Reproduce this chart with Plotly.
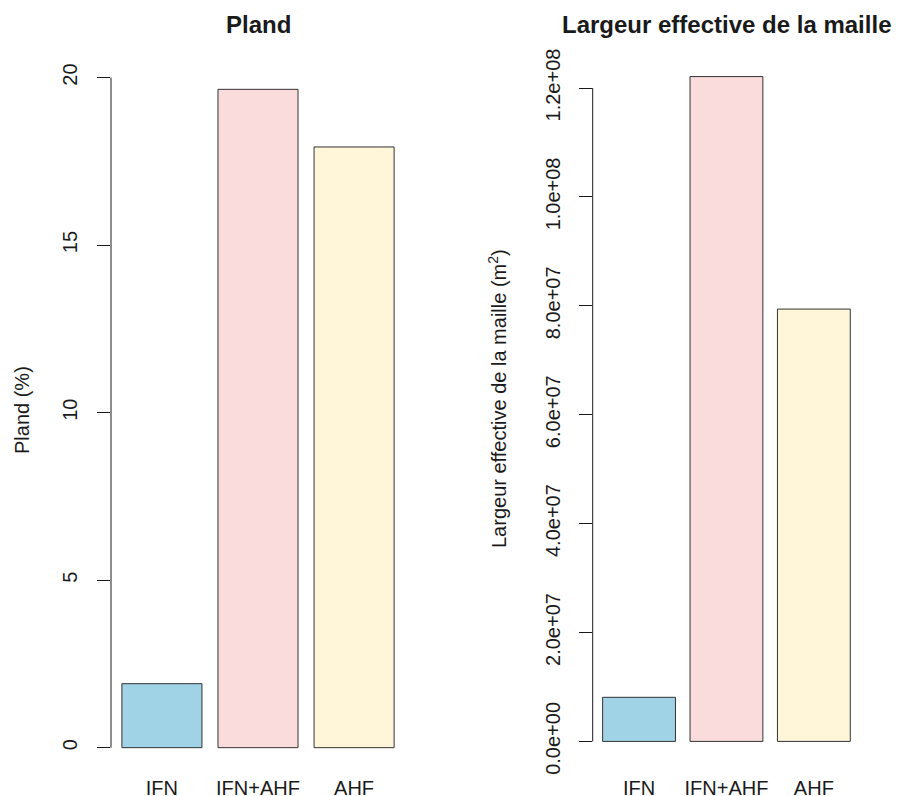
import plotly.graph_objects as go

categories = ["IFN", "IFN+AHF", "AHF"]
pland_values = [1.91, 19.65, 17.93]
lem_values = [8.1e6, 1.221e8, 7.94e7]
bar_colors = ["#A0D3E5", "#F9DCDB", "#FFF5D9"]

pland_ticks = [0, 5, 10, 15, 20]
pland_ticktext = ["0", "5", "10", "15", "20"]
lem_ticks = [0, 2e7, 4e7, 6e7, 8e7, 1e8, 1.2e8]
lem_ticktext = ["0.0e+00", "2.0e+07", "4.0e+07", "6.0e+07", "8.0e+07", "1.0e+08", "1.2e+08"]

W, H = 901, 796
FONT = "Liberation Sans, Arial, Helvetica, sans-serif"
TXT = "#1a1a1a"


def px_x(p):
    return p / W


def px_y(p):
    return 1 - p / H


fig = go.Figure()
fig.add_trace(go.Bar(x=categories, y=pland_values, marker=dict(color=bar_colors, line=dict(color="#333333", width=1)),
                     xaxis="x", yaxis="y", showlegend=False, hoverinfo="x+y"))
fig.add_trace(go.Bar(x=categories, y=lem_values, marker=dict(color=bar_colors, line=dict(color="#333333", width=1)),
                     xaxis="x2", yaxis="y2", showlegend=False, hoverinfo="x+y"))


def ext_range(vmax):
    pad = 0.04 * vmax
    return [-pad, vmax + pad]


common_x = dict(type="category", range=[-0.53, 2.53], showgrid=False, zeroline=False, showline=False,
                automargin=False, ticks="", tickfont=dict(family=FONT, size=20, color=TXT), fixedrange=True)
common_y = dict(showgrid=False, zeroline=False, showline=False, automargin=False, ticks="outside",
                ticklen=13, tickwidth=1, tickcolor=TXT, tickangle=-90,
                tickfont=dict(family=FONT, size=20, color=TXT))

fig.update_layout(
    template="none",
    width=W, height=H,
    margin=dict(l=0, r=0, t=0, b=0, pad=0),
    paper_bgcolor="white", plot_bgcolor="white",
    bargap=1 - 1 / 1.2,
    xaxis=dict(domain=[px_x(111), px_x(405)], anchor="y", ticklabelstandoff=0, **common_x),
    yaxis=dict(domain=[px_y(774), px_y(63)], anchor="x", range=ext_range(max(pland_values)),
               tickvals=pland_ticks, ticktext=pland_ticktext, ticklabelstandoff=12, **common_y),
    xaxis2=dict(domain=[px_x(592.7), px_x(860.2)], anchor="y2", ticklabelstandoff=6, **common_x),
    yaxis2=dict(domain=[px_y(768), px_y(50)], anchor="x2", range=ext_range(max(lem_values)),
                tickvals=lem_ticks, ticktext=lem_ticktext, ticklabelstandoff=11, **common_y),
)

# R-style axis lines spanning first to last tick
fig.add_shape(type="line", xref="x domain", yref="y", x0=0, x1=0, y0=pland_ticks[0], y1=pland_ticks[-1],
              line=dict(color=TXT, width=1))
fig.add_shape(type="line", xref="x2 domain", yref="y2", x0=0, x1=0, y0=lem_ticks[0], y1=lem_ticks[-1],
              line=dict(color=TXT, width=1))

# titles
fig.add_annotation(text="<b>Pland</b>", xref="paper", yref="paper", x=px_x(258), y=px_y(25),
                   xanchor="center", yanchor="middle", showarrow=False,
                   font=dict(family=FONT, size=24, color=TXT))
fig.add_annotation(text="<b>Largeur effective de la maille</b>", xref="paper", yref="paper",
                   x=px_x(726), y=px_y(25), xanchor="center", yanchor="middle", showarrow=False,
                   font=dict(family=FONT, size=24, color=TXT))
# y-axis titles
fig.add_annotation(text="Pland (%)", xref="paper", yref="paper", x=px_x(22), y=px_y(410),
                   xanchor="center", yanchor="middle", textangle=-90, showarrow=False,
                   font=dict(family=FONT, size=20, color=TXT))
fig.add_annotation(text="Largeur effective de la maille (m<sup>2</sup>)", xref="paper", yref="paper",
                   x=px_x(497), y=px_y(399), xanchor="center", yanchor="middle", textangle=-90,
                   showarrow=False, font=dict(family=FONT, size=20, color=TXT))

fig.write_html("out.html", config={"displayModeBar": False},
               post_script="document.body.style.margin='0';")
